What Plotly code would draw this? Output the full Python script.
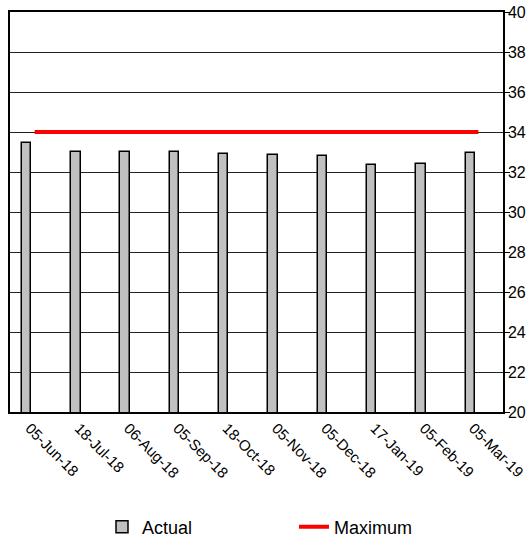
import plotly.graph_objects as go

dates = ["05-Jun-18", "18-Jul-18", "06-Aug-18", "05-Sep-18", "18-Oct-18",
         "05-Nov-18", "05-Dec-18", "17-Jan-19", "05-Feb-19", "05-Mar-19"]
actual = [33.45, 33.02, 33.02, 33.02, 32.88, 32.85, 32.82, 32.37, 32.40, 32.93]
maximum = [34, 34, 34, 34, 34, 34, 34, 34, 34, 34]
y_ticks = [20, 22, 24, 26, 28, 30, 32, 34, 36, 38, 40]

pos = list(range(len(dates)))
label_pos = [p - 0.1 for p in pos]
font = "Liberation Sans, Arial, sans-serif"

fig = go.Figure()
fig.add_trace(go.Bar(
    x=pos, y=actual, name="Actual",
    width=0.19, offset=-0.26,
    marker=dict(color="#c0c0c0", line=dict(color="#000000", width=1.5)),
))
fig.add_trace(go.Scatter(
    x=pos, y=maximum, name="Maximum", mode="lines",
    line=dict(color="#ff0000", width=4),
))

fig.update_layout(
    width=527, height=539,
    margin=dict(l=10, r=24, t=12, b=127, autoexpand=False),
    paper_bgcolor="white", plot_bgcolor="white",
    font=dict(family=font, color="#000000", size=16),
    showlegend=True,
    legend=dict(
        orientation="h", x=(102 - 10) / 493, xanchor="left",
        y=-115 / 400, yanchor="middle",
        font=dict(size=18), entrywidth=147, entrywidthmode="pixels",
        traceorder="normal",
    ),
    bargap=0,
)
fig.update_xaxes(
    range=[-0.5, 9.5], tickmode="array", tickvals=label_pos, ticktext=dates,
    tickangle=45, tickfont=dict(size=15), showgrid=False,
    showline=True, linecolor="#000000", linewidth=1.5, mirror=True,
    ticks="", zeroline=False, automargin=False, ticklabeloverflow="allow",
)
fig.update_yaxes(
    range=[20, 40], side="right", tickmode="array", tickvals=y_ticks,
    showgrid=True, gridcolor="#222222", gridwidth=1,
    showline=True, linecolor="#000000", linewidth=1.5, mirror=True,
    ticks="outside", ticklen=5, tickcolor="#000000", tickwidth=1,
    tickfont=dict(size=16), zeroline=False, automargin=False,
    ticklabelstandoff=-5, ticklabeloverflow="allow",
)

fig.write_html("out.html")
